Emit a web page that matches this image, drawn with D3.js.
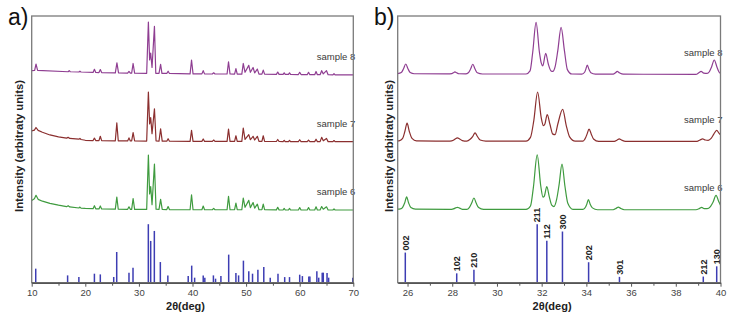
<!DOCTYPE html>
<html><head><meta charset="utf-8">
<script src="https://cdn.jsdelivr.net/npm/d3@7"></script>
<style>
html,body{margin:0;padding:0;background:#fff;}
svg{display:block;font-family:"Liberation Sans",Arial,sans-serif;}
</style></head>
<body><svg id="chart" width="735" height="320"></svg>
<script>
// ---------------- DATA ----------------
const sampleNames = ["sample 6", "sample 7", "sample 8"];
const sampleOffsets = [27.26, 52.9, 77.9];
const sampleColors = ["#3f9b3f", "#8b2f2f", "#8f3e92"];

// panel a: 2theta 10-70
const xTicksA = [10, 20, 30, 40, 50, 60, 70];
const xMinorA = [15, 25, 35, 45, 55, 65];
const sampleA6 = [[10,3.6],[10.5,4.2],[10.8,5.5],[11.2,4.0],[12,3.3],[13.4,2.5],[15,1.8],[16.5,1.25],[16.8,1.6],[17.1,1.15],[18.8,0.75],[19,1.1],[19.2,0.7],[20,0.6],[21.45,0.5],[21.7,1.6],[21.95,0.45],[22.55,0.4],[22.8,1.5],[23.05,0.4],[25.6,0.3],[25.88,4.8],[26.15,0.3],[27.9,0.25],[28.15,1.2],[28.4,0.25],[28.65,0.25],[28.92,4.3],[29.2,0.25],[31.45,0.2],[31.77,20.6],[32.0,6.0],[32.2,8.8],[32.45,2.0],[32.9,17.2],[33.2,0.3],[33.75,0.2],[34.05,4.0],[34.35,0.2],[35.2,0.15],[35.45,1.3],[35.7,0.15],[39.55,0.1],[39.82,5.7],[40.1,0.1],[41.75,0.1],[42.0,1.5],[42.25,0.1],[43.7,0.1],[43.95,0.6],[44.2,0.1],[46.45,0.1],[46.72,5.1],[47.0,0.1],[47.85,0.1],[48.1,2.6],[48.35,0.1],[49.2,0.1],[49.47,4.5],[49.8,1.0],[50.5,3.6],[50.8,0.9],[51.3,2.8],[51.6,0.7],[52.1,2.2],[52.4,0.1],[52.95,0.1],[53.2,2.2],[53.45,0.1],[55.65,0.05],[55.9,1.0],[56.15,0.05],[56.9,0],[57.1,0.6],[57.3,0],[57.9,0],[58.1,0.6],[58.3,0],[59.75,0],[60.0,0.9],[60.25,0],[61.4,0],[61.65,0.9],[61.9,0],[62.8,0],[63.05,1.2],[63.3,0],[63.8,0],[64.1,1.3],[64.4,0.3],[65.0,1.2],[65.3,0],[66.2,0],[66.4,0.4],[66.6,0],[70,0]];
const sampleA7 = [[10,4.0],[10.5,4.3],[10.8,5.3],[11.2,4.2],[12,3.5],[13.4,2.5],[15,1.8],[16.5,1.3],[16.8,1.6],[17.1,1.2],[18.8,0.9],[19,1.2],[19.2,0.8],[20,0.5],[21.45,0.4],[21.7,1.3],[21.95,0.4],[22.55,0.35],[22.8,2.0],[23.05,0.35],[25.6,0.3],[25.88,7.0],[26.15,0.3],[27.9,0.25],[28.15,1.4],[28.4,0.25],[28.65,0.25],[28.92,3.4],[29.2,0.25],[31.45,0.2],[31.77,18.6],[32.0,6.6],[32.2,9.0],[32.45,3.0],[32.9,12.3],[33.2,0.3],[33.75,0.2],[34.05,4.8],[34.35,0.2],[35.2,0.15],[35.45,1.1],[35.7,0.15],[39.55,0.1],[39.82,4.2],[40.1,0.1],[41.75,0.1],[42.0,1.0],[42.25,0.1],[43.7,0.1],[43.95,0.6],[44.2,0.1],[46.45,0.1],[46.72,4.7],[47.0,0.1],[47.85,0.1],[48.1,2.2],[48.35,0.1],[49.2,0.1],[49.47,5.1],[49.8,0.8],[50.5,2.6],[50.8,0.7],[51.3,2.0],[51.6,0.6],[52.1,2.0],[52.4,0.1],[52.95,0.1],[53.2,2.2],[53.45,0.1],[55.65,0.05],[55.9,0.8],[56.15,0.05],[56.9,0],[57.1,0.5],[57.3,0],[57.9,0],[58.1,0.5],[58.3,0],[59.75,0],[60.0,0.7],[60.25,0],[61.4,0],[61.65,0.6],[61.9,0],[62.8,0],[63.05,0.9],[63.3,0],[63.8,0],[64.1,1.6],[64.4,0.3],[65.0,1.2],[65.3,0],[66.2,0],[66.4,0.4],[66.6,0],[70,0]];
const sampleA8 = [[10,1.6],[10.55,1.7],[10.8,4.1],[11.1,1.7],[16.8,1.2],[17,1.6],[17.2,1.2],[18.8,1.1],[19,1.4],[19.2,1.1],[21.45,0.95],[21.7,2.1],[21.95,0.95],[22.55,0.9],[22.8,2.0],[23.05,0.9],[25.6,0.8],[25.9,4.5],[26.2,0.8],[27.9,0.7],[28.15,1.3],[28.4,0.7],[28.65,0.7],[28.92,4.3],[29.2,0.7],[31.45,0.6],[31.77,19.8],[32.0,5.6],[32.2,8.2],[32.45,2.8],[32.9,18.2],[33.15,0.6],[33.75,0.6],[34.05,4.0],[34.3,0.6],[35.2,0.55],[35.45,1.4],[35.7,0.55],[39.55,0.4],[39.82,5.6],[40.1,0.4],[41.75,0.4],[42.0,1.6],[42.25,0.4],[43.7,0.35],[43.95,0.8],[44.2,0.35],[46.45,0.35],[46.72,4.9],[47.0,0.35],[47.85,0.3],[48.1,2.4],[48.35,0.3],[49.2,0.3],[49.47,4.3],[49.8,1.0],[50.5,3.6],[50.8,1.0],[51.3,2.8],[51.6,0.8],[52.1,2.2],[52.4,0.3],[52.95,0.3],[53.2,1.8],[53.45,0.3],[55.65,0.2],[55.9,1.1],[56.15,0.2],[56.9,0.2],[57.1,0.8],[57.3,0.2],[57.9,0.2],[58.1,0.8],[58.3,0.2],[59.75,0.15],[60.0,1.0],[60.25,0.15],[61.4,0.1],[61.65,1.0],[61.9,0.1],[62.8,0.1],[63.05,1.3],[63.3,0.1],[63.8,0.1],[64.1,1.6],[64.4,0.4],[65.0,1.6],[65.3,0.1],[66.2,0.05],[66.4,0.5],[66.6,0.05],[70,0]];
const refPosA = [10.75,16.7,18.8,21.7,22.8,25.3,25.86,28.15,28.9,31.76,32.2,32.88,34.0,35.4,39.2,39.85,40.4,42.0,42.3,43.9,44.3,45.3,46.75,48.1,48.6,49.5,50.5,51.2,52.2,53.3,54.5,55.95,57.2,58.1,60.0,60.5,61.7,61.9,63.2,63.55,64.2,64.4,65.1,65.4,69.9];
const refIntA = [24,12.5,9.8,15.4,14.2,9.8,52.5,17,25.7,100,71.4,88.5,35.3,12.5,11.3,29.2,8.6,12.5,8.6,12.5,6.9,11.3,48,16.5,12.5,37.7,19.4,15.4,22.3,26.8,8.6,15.4,9.6,9.6,13.7,11.3,10.8,10.8,19.4,8.6,17.2,17.2,16.5,8.6,8.6];

// panel b: 2theta 25.5-40
const xTicksB = [26, 28, 30, 32, 34, 36, 38, 40];
const xMinorB = [27, 29, 31, 33, 35, 37, 39];
const sampleB6 = [[25.56,0.3],[25.68,0.4],[25.78,1.0],[25.87,2.6],[25.96,4.9],[26.05,2.6],[26.15,0.9],[26.35,0.3],[27.9,0.2],[28.05,0.4],[28.15,0.8],[28.23,1.0],[28.33,0.7],[28.5,0.2],[28.65,0.2],[28.77,1.0],[28.87,2.6],[28.97,4.5],[29.07,2.6],[29.18,0.9],[29.4,0.2],[31.3,0.2],[31.5,1.5],[31.63,8.5],[31.8,20.7],[31.96,9.0],[32.06,4.8],[32.12,5.2],[32.23,8.8],[32.34,5.0],[32.45,1.8],[32.55,1.3],[32.67,4.0],[32.78,9.5],[32.91,17.2],[33.04,9.0],[33.17,2.5],[33.4,0.2],[33.85,0.2],[33.97,1.2],[34.02,2.2],[34.09,3.9],[34.17,2.2],[34.27,0.8],[34.5,0.1],[35.2,0.1],[35.33,0.6],[35.43,1.1],[35.53,0.6],[35.7,0.1],[38.9,0.1],[39.05,0.5],[39.16,1.0],[39.27,0.5],[39.4,0.5],[39.55,1.3],[39.67,3.0],[39.8,5.5],[39.92,3.2],[40,1.8]];
const sampleB7 = [[25.56,0.3],[25.65,0.4],[25.78,1.2],[25.88,3.8],[25.98,6.9],[26.08,3.8],[26.2,1.2],[26.4,0.3],[27.9,0.2],[28.05,0.5],[28.13,1.0],[28.23,1.4],[28.33,1.0],[28.45,0.4],[28.65,0.2],[28.8,0.9],[28.92,2.0],[29.02,3.3],[29.12,2.0],[29.25,0.6],[29.5,0.2],[31.3,0.2],[31.5,1.6],[31.65,8.0],[31.82,18.6],[31.98,9.0],[32.08,6.0],[32.14,6.5],[32.25,10.1],[32.37,6.5],[32.5,2.8],[32.6,2.6],[32.72,6.5],[32.94,12.1],[33.1,6.0],[33.25,1.8],[33.5,0.2],[33.85,0.2],[33.97,1.5],[34.03,2.8],[34.12,4.7],[34.22,2.8],[34.32,1.0],[34.55,0.1],[35.25,0.1],[35.38,0.6],[35.47,1.0],[35.57,0.6],[35.75,0.1],[38.95,0.1],[39.08,0.6],[39.2,1.0],[39.32,0.6],[39.45,0.5],[39.58,1.2],[39.7,2.8],[39.83,4.2],[39.93,3.2],[40,2.5]];
const sampleB8 = [[25.56,0.5],[25.72,0.9],[25.82,2.3],[25.92,4.1],[26.02,2.3],[26.12,0.9],[26.3,0.45],[27.8,0.4],[27.98,0.5],[28.05,0.8],[28.12,1.15],[28.2,0.8],[28.3,0.45],[28.6,0.4],[28.72,0.8],[28.82,2.2],[28.92,4.0],[29.02,2.2],[29.12,0.8],[29.35,0.35],[31.3,0.35],[31.48,1.5],[31.6,8.5],[31.75,19.7],[31.9,8.5],[31.98,4.5],[32.05,3.4],[32.18,8.1],[32.3,4.0],[32.42,1.5],[32.5,1.3],[32.6,3.0],[32.72,9.0],[32.87,17.8],[33.02,9.0],[33.15,2.0],[33.35,0.35],[33.8,0.3],[33.92,1.0],[33.97,2.0],[34.04,3.7],[34.12,2.0],[34.2,0.8],[34.4,0.3],[35.2,0.3],[35.3,0.8],[35.38,1.3],[35.48,0.8],[35.65,0.3],[38.9,0.2],[39.03,0.8],[39.13,1.3],[39.25,0.7],[39.4,0.6],[39.5,1.2],[39.6,3.0],[39.72,5.6],[39.84,3.0],[39.94,1.0],[40,0.6]];
const refPosB = [25.9, 28.2, 28.97, 31.8, 32.23, 32.93, 34.1, 35.48, 39.23, 39.83];
const refIntB = [51.5, 16, 22, 100, 71.5, 87.5, 35, 10, 10.5, 28];
const refHklB = ["002", "102", "210", "211", "112", "300", "202", "301", "212", "130"];

// ---------------- DRAW ----------------
const svg = d3.select("#chart");
const plotTop = 16, plotBottom = 282.7;
const ySpec = d3.scaleLinear().domain([0, 100]).range([plotBottom, plotTop]);
const yRef = d3.scaleLinear().domain([0, 100]).range([plotBottom, plotBottom - 58.5]);

function panel(opts) {
  const g = svg.append("g");
  const x = d3.scaleLinear().domain(opts.domain).range(opts.range);
  const [x0, x1] = opts.range;
  // sample labels (drawn before frame so axis overlaps)
  opts.samples.forEach((s, i) => {
    g.append("text").attr("x", x1 + 2).attr("y", ySpec(sampleOffsets[i]) - opts.labelGap)
      .attr("text-anchor", "end").attr("font-size", 9.5).attr("fill", "#3a3a3a")
      .text(sampleNames[i]);
  });
  // curves
  opts.samples.forEach((s, i) => {
    const line = d3.line().curve(opts.curve)
      .x(d => x(d[0])).y(d => ySpec(sampleOffsets[i] + d[1]));
    g.append("path").attr("d", line(s))
      .attr("fill", "none").attr("stroke", sampleColors[i]).attr("stroke-width", 1.2)
      .attr("stroke-linejoin", "round");
  });
  // reference sticks
  g.selectAll("line.ref").data(opts.refPos).join("line").attr("class", "ref")
    .attr("x1", d => x(d)).attr("x2", d => x(d))
    .attr("y1", plotBottom).attr("y2", (d, i) => yRef(opts.refInt[i]))
    .attr("stroke", "#3d3db3").attr("stroke-width", 1.5);
  if (opts.hkl) {
    g.selectAll("text.hkl").data(opts.hkl).join("text").attr("class", "hkl")
      .attr("transform", (d, i) => `translate(${x(opts.refPos[i]) + 3.3},${yRef(opts.refInt[i]) - 2}) rotate(-90)`)
      .attr("font-size", 9).attr("font-weight", "bold").attr("fill", "#222")
      .text(d => d);
  }
  // frame
  g.append("rect").attr("x", x0).attr("y", plotTop).attr("width", x1 - x0).attr("height", plotBottom - plotTop)
    .attr("fill", "none").attr("stroke", "#7a7a7a").attr("stroke-width", 1.3);
  // bottom axis
  const ax = g.append("g").attr("transform", `translate(0,${plotBottom})`)
    .call(d3.axisBottom(x).tickValues(opts.ticks).tickSize(4).tickSizeOuter(0).tickPadding(3));
  ax.select(".domain").attr("stroke", "#555").attr("stroke-width", 1.5);
  ax.selectAll(".tick line").attr("stroke", "#555").attr("stroke-width", 1);
  ax.selectAll(".tick text").attr("font-size", 9.5).attr("fill", "#444")
    .attr("font-family", "Liberation Sans, Arial, sans-serif");
  g.append("g").attr("transform", `translate(0,${plotBottom})`)
    .call(d3.axisBottom(x).tickValues(opts.minor).tickSize(3).tickFormat(""))
    .call(a => { a.select(".domain").remove(); a.selectAll("line").attr("stroke", "#555"); });
  // axis titles
  g.append("text").attr("x", (x0 + x1) / 2 - 7).attr("y", 309.5)
    .attr("text-anchor", "middle").attr("font-size", 11).attr("font-weight", "bold").attr("fill", "#222")
    .text("2θ(deg)");
  g.append("text").attr("transform", `translate(${opts.ylabX},146) rotate(-90)`)
    .attr("text-anchor", "middle").attr("font-size", 11).attr("font-weight", "bold").attr("fill", "#222")
    .attr("textLength", 132).attr("lengthAdjust", "spacingAndGlyphs")
    .text("Intensity (arbitraty units)");
  g.append("text").attr("x", opts.tagX).attr("y", 25).attr("font-size", 23).attr("fill", "#111")
    .text(opts.tag);
}

panel({domain: [10, 70], range: [31.7, 353.3], ticks: xTicksA, minor: xMinorA,
  samples: [sampleA6, sampleA7, sampleA8], curve: d3.curveLinear, labelGap: 15,
  refPos: refPosA, refInt: refIntA, ylabX: 22.5, tagX: 8, tag: "a)"});
panel({domain: [25.56, 40], range: [397.7, 720.5], ticks: xTicksB, minor: xMinorB,
  samples: [sampleB6, sampleB7, sampleB8], curve: d3.curveMonotoneX, labelGap: 19,
  refPos: refPosB, refInt: refIntB, hkl: refHklB, ylabX: 392.5, tagX: 374, tag: "b)"});
</script></body></html>
